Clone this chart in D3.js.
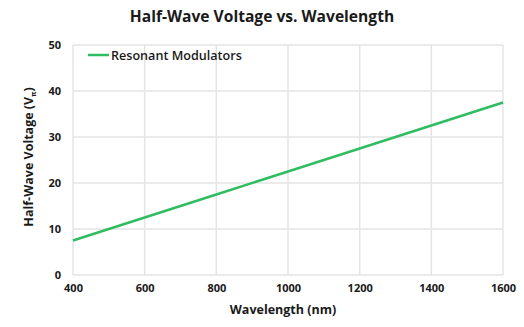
<!DOCTYPE html>
<html><head><meta charset="utf-8">
<script src="https://cdn.jsdelivr.net/npm/d3@7"></script>
<style>body{margin:0;background:#fff}svg{display:block}text{font-family:"Open Sans",sans-serif;fill:#1a1a1a}</style>
</head><body>
<svg id="c" width="524" height="327"></svg>
<script>
const wavelengths = [400, 600, 800, 1000, 1200, 1400, 1600];
const halfWaveVoltage = [7.5, 12.5, 17.5, 22.5, 27.5, 32.5, 37.5];
const xTicks = [400, 600, 800, 1000, 1200, 1400, 1600];
const yTicks = [0, 10, 20, 30, 40, 50];
const seriesName = "Resonant Modulators";

const svg = d3.select("#c");
const m = {l: 73, r: 21, t: 45, b: 52};
const W = 524, H = 327;
const x = d3.scaleLinear().domain([400, 1600]).range([m.l, W - m.r]);
const y = d3.scaleLinear().domain([0, 50]).range([H - m.b, m.t]);

const grid = svg.append("g");
grid.selectAll(".gx").data(xTicks).join("line")
  .attr("x1", d => x(d)).attr("x2", d => x(d)).attr("y1", y(0)).attr("y2", y(50))
  .attr("stroke", "#e4e4e4").attr("stroke-width", 1.5);
grid.selectAll(".gy").data(yTicks).join("line")
  .attr("x1", x(400)).attr("x2", x(1600)).attr("y1", d => y(d)).attr("y2", d => y(d))
  .attr("stroke", "#e4e4e4").attr("stroke-width", 1.5);

const xa = svg.append("g").attr("transform", `translate(0,${y(0)})`)
  .call(d3.axisBottom(x).tickValues(xTicks).tickSize(0).tickPadding(9).tickFormat(d3.format("d")));
xa.select(".domain").remove();
xa.selectAll("text").attr("font-size", 11).attr("font-weight", "bold").style("font-family", '"Open Sans",sans-serif').attr("fill", "#1a1a1a");

const ya = svg.append("g").attr("transform", `translate(${m.l},0)`)
  .call(d3.axisLeft(y).tickValues(yTicks).tickSize(0).tickPadding(12));
ya.select(".domain").remove();
ya.selectAll("text").attr("font-size", 11).attr("font-weight", "bold").style("font-family", '"Open Sans",sans-serif').attr("fill", "#1a1a1a");

const line = d3.line().x((d, i) => x(wavelengths[i])).y(d => y(d));
svg.append("path").datum(halfWaveVoltage).attr("d", line)
  .attr("fill", "none").attr("stroke", "#2fbd62").attr("stroke-width", 2.5);

// legend
svg.append("line").attr("x1", 88).attr("x2", 109).attr("y1", 55).attr("y2", 55)
  .attr("stroke", "#2fbd62").attr("stroke-width", 2.5);
svg.append("text").attr("x", 111).attr("y", 59.5).attr("font-size", 12.6).attr("font-weight", 600)
  .text(seriesName);

svg.append("text").attr("x", 262).attr("y", 22).attr("text-anchor", "middle")
  .attr("font-size", 15.6).attr("font-weight", "bold").text("Half-Wave Voltage vs. Wavelength");
svg.append("text").attr("x", 283).attr("y", 314).attr("text-anchor", "middle")
  .attr("font-size", 12.5).attr("font-weight", "bold").text("Wavelength (nm)");
const yl = svg.append("text").attr("transform", "translate(33,157) rotate(-90)")
  .attr("text-anchor", "middle").attr("font-size", 12.5).attr("font-weight", "bold");
yl.append("tspan").text("Half-Wave Voltage (V");
yl.append("tspan").attr("font-size", 7).attr("dy", 3).text("π");
yl.append("tspan").attr("dy", -3).text(")");
</script>
</body></html>
